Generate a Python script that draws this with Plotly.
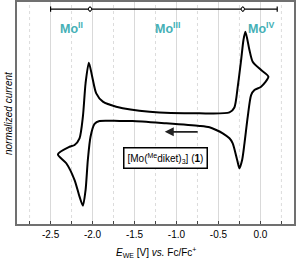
import plotly.graph_objects as go

# Cyclic voltammogram, potential (V vs Fc/Fc+) and normalized current
potential = [0.095, 0.008, -0.071, -0.111, -0.151, -0.190, -0.218, -0.250, -0.277, -0.330,
             -0.369, -0.449, -0.527, -0.607, -0.726, -1.123, -1.524, -1.679, -1.917, -1.976,
             -2.024, -2.056, -2.083, -2.115, -2.155, -2.214, -2.313, -2.413,
             -2.274, -2.214, -2.155, -2.115, -2.083, -2.044, -2.004, -1.956, -1.877, -1.718,
             -1.321, -0.726, -0.369, -0.310, -0.270, -0.230, -0.202, -0.179, -0.131, -0.092,
             0.008, 0.095]
current = [0.327, 0.237, 0.207, 0.162, -0.033, -0.273, -0.423, -0.498, -0.423, -0.273,
           -0.228, -0.183, -0.153, -0.129, -0.117, -0.093, -0.072, -0.072, -0.072, -0.099,
           -0.214, -0.423, -0.694, -0.835, -0.754, -0.604, -0.453, -0.372,
           -0.304, -0.288, -0.228, -0.033, 0.268, 0.453, 0.327, 0.177, 0.102, 0.057,
           0.012, -0.003, 0.005, 0.050, 0.237, 0.477, 0.658, 0.732, 0.568, 0.462,
           0.387, 0.327]

region_bounds = [-2.5, -2.03, -0.21, 0.2]
region_labels = ["Mo<sup>II</sup>", "Mo<sup>III</sup>", "Mo<sup>IV</sup>"]
region_label_x = [-2.25, -1.11, 0.01]

major_ticks = [-2.5, -2.0, -1.5, -1.0, -0.5, 0.0]
major_labels = ["-2.5", "-2.0", "-1.5", "-1.0", "-0.5", "0.0"]
minor_ticks = [-2.75, -2.25, -1.75, -1.25, -0.75, -0.25, 0.25]

teal = "#45b0b6"
font_family = "Liberation Sans, Arial, sans-serif"

fig = go.Figure()
fig.add_trace(go.Scatter(x=potential, y=current, mode="lines",
                         line=dict(color="black", width=2, shape="spline", smoothing=0.7),
                         hoverinfo="skip", showlegend=False))

shapes = []
# minor gridlines (dotted)
for t in minor_ticks:
    shapes.append(dict(type="line", xref="x", yref="paper", x0=t, x1=t, y0=0, y1=1,
                       line=dict(color="#dcdcdc", width=1, dash="dot"), layer="below"))
# bracket at top
by = 0.968
for i in range(len(region_bounds) - 1):
    shapes.append(dict(type="line", xref="x", yref="paper", x0=region_bounds[i], x1=region_bounds[i + 1],
                       y0=by, y1=by, line=dict(color="black", width=1.3)))
for b in region_bounds:
    shapes.append(dict(type="line", xref="x", yref="paper", x0=b, x1=b, y0=by - 0.012, y1=by + 0.012,
                       line=dict(color="black", width=1.2)))
for b in region_bounds[1:-1]:
    shapes.append(dict(type="circle", xref="x", yref="paper", x0=b - 0.02, x1=b + 0.02,
                       y0=by - 0.009, y1=by + 0.009, line=dict(color="black", width=1),
                       fillcolor="white"))

annotations = []
for lx, lab in zip(region_label_x, region_labels):
    annotations.append(dict(x=lx, y=0.93, xref="x", yref="paper", text="<b>" + lab + "</b>",
                            showarrow=False, font=dict(color=teal, size=12.5, family=font_family)))
# arrow indicating scan direction
annotations.append(dict(x=-1.14, y=-0.17, ax=-0.73, ay=-0.17, xref="x", yref="y", axref="x", ayref="y",
                        text="", showarrow=True, arrowhead=2, arrowsize=1, arrowwidth=1.8,
                        arrowcolor="#222"))
annotations.append(dict(x=-1.13, y=-0.402, xref="x", yref="y",
                        text="[Mo(<sup>Me</sup>diket)<sub>3</sub>] (<b>1</b>)",
                        showarrow=False, bordercolor="black", borderwidth=1.5, borderpad=3,
                        bgcolor="white", font=dict(size=10, color="black", family=font_family)))
# axis titles
annotations.append(dict(x=0.5, y=0, xref="paper", yref="paper", yshift=-28,
                        text="<i>E</i><sub>WE</sub> [V] <i>vs.</i> Fc/Fc<sup>+</sup>",
                        showarrow=False, font=dict(size=10), yanchor="middle"))
annotations.append(dict(x=0, y=0.5, xref="paper", yref="paper", xshift=-9, textangle=-90,
                        text="<i>normalized current</i>",
                        showarrow=False, font=dict(size=10), xanchor="center"))

fig.update_layout(
    width=297, height=259,
    margin=dict(l=17, r=3, t=2, b=35),
    plot_bgcolor="white", paper_bgcolor="white",
    font=dict(family=font_family, size=10, color="black"),
    shapes=shapes, annotations=annotations,
    xaxis=dict(range=[-2.9, 0.4], tickvals=major_ticks, ticktext=major_labels,
               ticks="inside", ticklen=3, tickcolor="#444", tickwidth=1,
               minor=dict(tickvals=minor_ticks, ticks="inside", ticklen=3, tickcolor="#444",
                          showgrid=False),
               showgrid=True, gridcolor="#d9d9d9", gridwidth=1, automargin=False,
               showline=True, linecolor="#707070", linewidth=2, mirror=True, zeroline=False,
               tickfont=dict(size=10)),
    yaxis=dict(range=[-1.0, 1.0], showticklabels=False, ticks="", showgrid=False, automargin=False,
               showline=True, linecolor="#707070", linewidth=2, mirror=True, zeroline=False),
)

fig.write_html("out.html", config={"displayModeBar": False},
               post_script="document.body.style.margin='0';")
